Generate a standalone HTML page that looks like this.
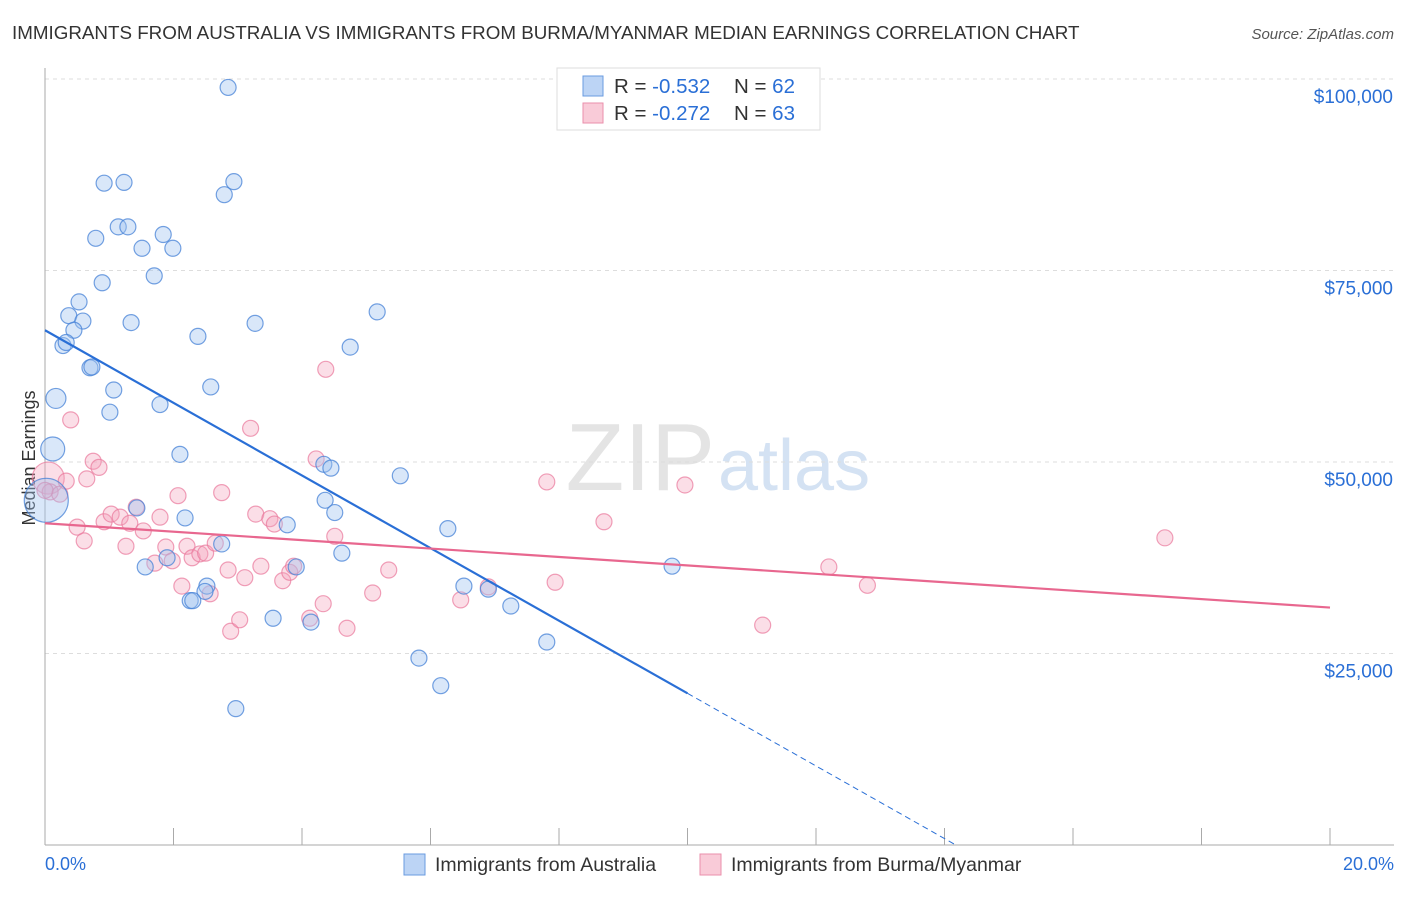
<!DOCTYPE html>
<html><head><meta charset="utf-8"><style>
body{margin:0;background:#fff;font-family:"Liberation Sans",sans-serif}
svg text{font-family:"Liberation Sans",sans-serif}
</style></head><body>
<svg id="c" width="1406" height="892">
<text x="12" y="39" font-size="18.8" fill="#333">IMMIGRANTS FROM AUSTRALIA VS IMMIGRANTS FROM BURMA/MYANMAR MEDIAN EARNINGS CORRELATION CHART</text>
<text x="1394" y="39" font-size="15" fill="#555" font-style="italic" text-anchor="end">Source: ZipAtlas.com</text>
<text x="35" y="458" font-size="18" fill="#333" text-anchor="middle" transform="rotate(-90 35 458)">Median Earnings</text>
<text x="715" y="490" font-size="96" fill="#e4e4e4" text-anchor="end" font-family="Liberation Serif">ZIP</text>
<text x="718" y="490" font-size="72" fill="#d4e2f3">atlas</text>
<g id="grid"></g><g id="pts"></g><g id="lines"></g>
<g>
<rect x="557" y="68" width="263" height="62" fill="#fff" stroke="#ddd"/>
<rect x="583" y="76" width="20" height="20" fill="#bcd4f5" stroke="#6a9be0"/>
<text x="614" y="93" font-size="20.5" fill="#333">R = <tspan fill="#2a6fd6">-0.532</tspan><tspan x="734">N = </tspan><tspan fill="#2a6fd6">62</tspan></text>
<rect x="583" y="103" width="20" height="20" fill="#f9cbd8" stroke="#ea8fab"/>
<text x="614" y="120" font-size="20.5" fill="#333">R = <tspan fill="#2a6fd6">-0.272</tspan><tspan x="734">N = </tspan><tspan fill="#2a6fd6">63</tspan></text>
</g>
<g>
<rect x="404" y="854" width="21" height="21" fill="#bcd4f5" stroke="#6a9be0"/>
<text x="435" y="871" font-size="19.5" fill="#333">Immigrants from Australia</text>
<rect x="700" y="854" width="21" height="21" fill="#f9cbd8" stroke="#ea8fab"/>
<text x="731" y="871" font-size="19.5" fill="#333">Immigrants from Burma/Myanmar</text>
</g>
<text x="45" y="870" font-size="18" fill="#2a6fd6">0.0%</text>
<text x="1394" y="870" font-size="18" fill="#2a6fd6" text-anchor="end">20.0%</text>
</svg>
<script>
const yTicks=[25000,50000,75000,100000];
const yTickLabels=["$25,000","$50,000","$75,000","$100,000"];
const ausX=[2.85,0.92,1.23,2.94,2.79,0.79,1.14,1.29,1.84,1.51,1.99,1.70,0.89,0.53,0.37,0.59,0.45,1.34,3.27,2.38,0.28,0.33,4.75,5.17,0.70,0.73,2.58,1.07,0.17,1.01,1.79,0.12,2.10,4.34,4.45,5.53,4.36,1.43,4.51,2.18,3.77,6.27,2.75,4.62,1.90,1.56,3.91,9.76,2.52,6.52,2.49,2.26,2.30,6.90,7.25,3.55,4.14,7.81,5.82,6.16,2.97,0.02];
const ausY=[98900,86400,86500,86600,84900,79200,80700,80700,79700,77900,77900,74300,73400,70900,69100,68400,67200,68200,68100,66400,65200,65600,65000,69600,62300,62400,59800,59400,58300,56500,57500,51700,51000,49700,49200,48200,45000,44000,43400,42700,41800,41300,39300,38100,37500,36300,36300,36400,33800,33800,33100,31900,31900,33400,31200,29600,29100,26500,24400,20800,17800,45000];
const ausR=[8,8,8,8,8,8,8,8,8,8,8,8,8,8,8,8,8,8,8,8,8,8,8,8,8,8,8,8,10,8,8,12,8,8,8,8,8,8,8,8,8,8,8,8,8,8,8,8,8,8,8,8,8,8,8,8,8,8,8,8,8,22];
const burX=[0.05,0.08,0.23,0.33,0.40,0.75,0.84,0.65,0.50,0.61,0.92,1.03,1.17,1.32,1.42,1.53,1.26,1.71,1.79,1.88,1.98,2.07,2.13,2.21,2.29,2.41,2.50,2.57,2.75,2.65,2.85,2.89,3.03,3.11,3.20,3.28,3.36,3.50,3.57,3.70,3.81,3.87,4.12,4.22,4.33,4.51,4.70,5.10,5.35,6.47,6.90,7.81,7.94,8.70,9.96,11.17,12.20,12.80,17.43,4.37,0.00];
const burY=[47900,46100,45800,47500,55500,50100,49300,47800,41500,39700,42200,43200,42800,42000,44100,41000,39000,36800,42800,38900,37100,45600,33800,39000,37500,38000,38100,32800,46000,39400,35900,27900,29400,34900,54400,43200,36400,42600,41900,34500,35600,36400,29600,50400,31500,40300,28300,32900,35900,32000,33700,47400,34300,42200,47000,28700,36300,33900,40100,62100,46300];
const burR=[16,8,8,8,8,8,8,8,8,8,8,8,8,8,8,8,8,8,8,8,8,8,8,8,8,8,8,8,8,8,8,8,8,8,8,8,8,8,8,8,8,8,8,8,8,8,8,8,8,8,8,8,8,8,8,8,8,8,8,8,8];
const ausLine=[0,67200,10,19800];const burLine=[0,42000,20,31000];
const X=v=>45+v/20*1285, Y=v=>845-v/25000*191.5;
const NS="http://www.w3.org/2000/svg";
function mk(t,a,p){const e=document.createElementNS(NS,t);for(const k in a)e.setAttribute(k,a[k]);p.appendChild(e);return e;}
const grid=document.getElementById('grid');
yTicks.forEach((t,i)=>{
 const l=mk('line',{x1:45,x2:1394,y1:Y(t),y2:Y(t),stroke:'#ddd','stroke-dasharray':'4 4'},grid);
 
 
 const tx=mk('text',{x:1393,y:Y(t)+24,'font-size':19,fill:'#2a6fd6','text-anchor':'end'},grid);tx.textContent=yTickLabels[i];
 
 
});
mk('line',{x1:45,x2:45,y1:68,y2:845,stroke:'#aaa'},grid);
mk('line',{x1:45,x2:1394,y1:845,y2:845,stroke:'#aaa'},grid);
for(let i=0;i<=10;i++){const t=mk('line',{x1:X(i*2),x2:X(i*2),y1:828,y2:845,stroke:'#aaa'},grid);
 
 }
const pts=document.getElementById('pts');
burX.forEach((x,i)=>{const c=mk('circle',{cx:X(x),cy:Y(burY[i]),r:burR[i],fill:'rgba(244,160,186,0.35)',stroke:'rgba(234,120,155,0.7)','stroke-width':1.2},pts);
 
 });
ausX.forEach((x,i)=>{const c=mk('circle',{cx:X(x),cy:Y(ausY[i]),r:ausR[i],fill:'rgba(160,196,240,0.4)',stroke:'rgba(70,130,215,0.75)','stroke-width':1.2},pts);
 
 });
const lg=document.getElementById('lines');
const s=(ausLine[3]-ausLine[1])/(ausLine[2]-ausLine[0]);
const l1=mk('line',{x1:X(0),y1:Y(ausLine[1]),x2:X(ausLine[2]),y2:Y(ausLine[3]),stroke:'#2a6fd6','stroke-width':2.2},lg);


const xe=-ausLine[1]/s;
const l2=mk('line',{x1:X(ausLine[2]),y1:Y(ausLine[3]),x2:X(xe),y2:Y(0),stroke:'#2a6fd6','stroke-width':1,'stroke-dasharray':'6 4'},lg);


const l3=mk('line',{x1:X(burLine[0]),y1:Y(burLine[1]),x2:X(burLine[2]),y2:Y(burLine[3]),stroke:'#e8678f','stroke-width':2.2},lg);


</script>
</body></html>
